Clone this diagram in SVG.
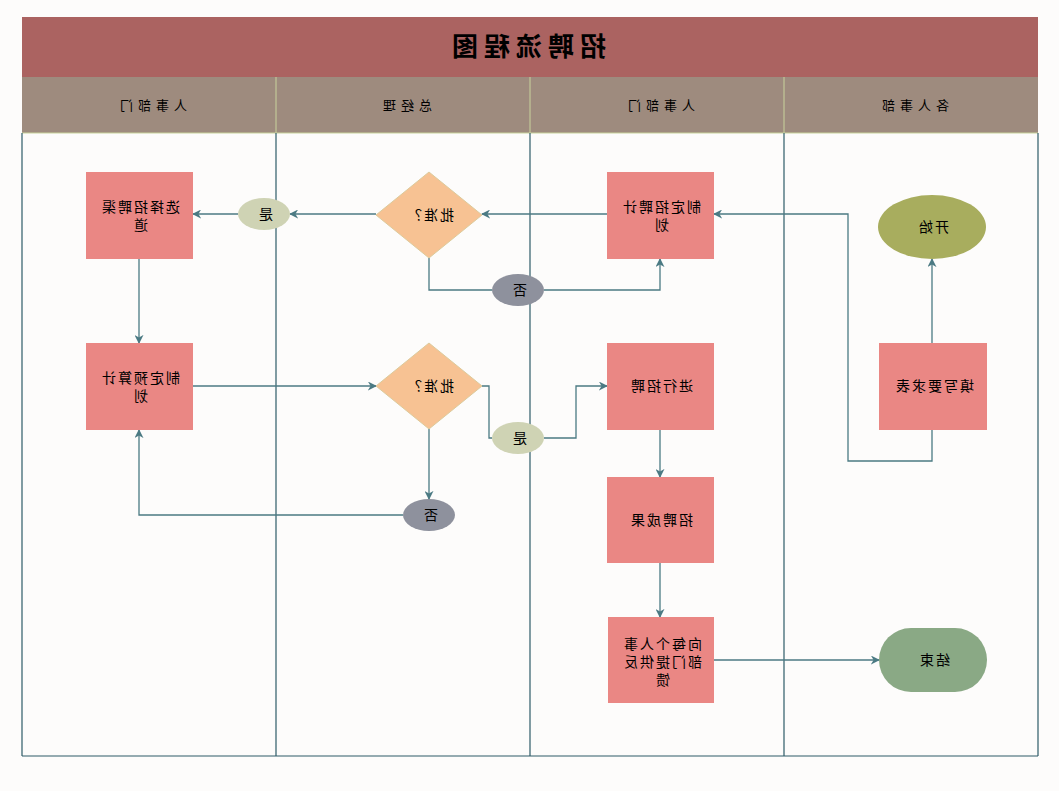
<svg xmlns="http://www.w3.org/2000/svg" width="1059" height="791" viewBox="0 0 1059 791">
<defs>
<marker id="ah" viewBox="0 0 10 10" refX="9" refY="5" markerWidth="9" markerHeight="9" markerUnits="userSpaceOnUse" orient="auto">
<path d="M0,0 L10,5 L0,10 L3,5 Z" fill="#4b7a83"/>
</marker>
<style>
.t{font-family:"Noto Sans CJK SC","Liberation Sans",sans-serif;font-size:14px;letter-spacing:2px;fill:#000;text-anchor:middle}
.h{font-family:"Noto Sans CJK SC","Liberation Sans",sans-serif;font-size:13px;letter-spacing:5px;fill:#000;text-anchor:middle}
.ttl{font-family:"Noto Sans CJK SC","Liberation Sans",sans-serif;font-size:26px;letter-spacing:6px;font-weight:bold;fill:#000;text-anchor:middle}
.box{fill:#ea8784}
.dia{fill:#f7c293;stroke:#dccb9c;stroke-width:1}
.yes{fill:#cfd3b4}
.no{fill:#8e919d}
.c{fill:none;stroke:#4b7a83;stroke-width:1.3}
.ca{fill:none;stroke:#4b7a83;stroke-width:1.3;marker-end:url(#ah)}
.lane{stroke:#2e5b68;stroke-width:1.2}
.hl{stroke:#c9d39c;stroke-width:1}
</style>
</defs>
<rect x="0" y="0" width="1059" height="791" fill="#fdfcfb"/>
<g id="pool">
<rect x="22" y="17" width="1016" height="60" fill="#ab6361"/>
<text class="ttl" x="526" y="56" transform="translate(1052,0) scale(-1,1)">招聘流程图</text>
<rect x="22" y="77" width="1016" height="56" fill="#9e8b7e"/>
<line class="hl" x1="276" y1="77" x2="276" y2="133"/>
<line class="hl" x1="530" y1="77" x2="530" y2="133"/>
<line class="hl" x1="784" y1="77" x2="784" y2="133"/>
<line class="hl" x1="22" y1="133" x2="1038" y2="133"/>
<text class="h" x="151" y="110" transform="translate(302,0) scale(-1,1)">人事部门</text>
<text class="h" x="405" y="110" transform="translate(810,0) scale(-1,1)">总经理</text>
<text class="h" x="659" y="110" transform="translate(1318,0) scale(-1,1)">人事部门</text>
<text class="h" x="913" y="110" transform="translate(1826,0) scale(-1,1)">各人事部</text>
<line class="lane" x1="22" y1="133" x2="22" y2="756"/>
<line class="lane" x1="276" y1="133" x2="276" y2="756"/>
<line class="lane" x1="530" y1="133" x2="530" y2="756"/>
<line class="lane" x1="784" y1="133" x2="784" y2="756"/>
<line class="lane" x1="1038" y1="133" x2="1038" y2="756"/>
<line class="lane" x1="22" y1="756" x2="1038" y2="756"/>
</g>
<g id="connectors">
<path class="ca" d="M932,343 L932,259"/>
<path class="ca" d="M932,430 L932,461 L848,461 L848,214 L714,214"/>
<path class="ca" d="M607,214 L482,214"/>
<path class="ca" d="M376,214 L290,214"/>
<path class="ca" d="M238,214 L193,214"/>
<path class="c" d="M429,258 L429,290 L492,290"/>
<path class="ca" d="M544,290 L660,290 L660,259"/>
<path class="ca" d="M139,259 L139,343"/>
<path class="ca" d="M193,386 L376,386"/>
<path class="c" d="M482,386 L489,386 L489,438 L492,438"/>
<path class="ca" d="M544,438 L576,438 L576,386 L607,386"/>
<path class="ca" d="M429,429 L429,499"/>
<path class="ca" d="M403,515 L139,515 L139,430"/>
<path class="ca" d="M660,430 L660,477"/>
<path class="ca" d="M660,563 L660,617"/>
<path class="ca" d="M714,660 L879,660"/>
</g>
<g id="n-start">
<ellipse cx="932" cy="227" rx="54" ry="32" fill="#a8ad5e"/>
<text class="t" x="933" y="232" transform="translate(1866,0) scale(-1,1)">开始</text>
</g>
<g id="n-form">
<rect class="box" x="879" y="343" width="108" height="87"/>
<text class="t" x="934" y="391" transform="translate(1868,0) scale(-1,1)">填写要求表</text>
</g>
<g id="n-plan">
<rect class="box" x="607" y="172" width="107" height="87"/>
<text class="t" x="661" y="212" transform="translate(1322,0) scale(-1,1)">制定招聘计</text>
<text class="t" x="661" y="230" transform="translate(1322,0) scale(-1,1)">划</text>
</g>
<g id="n-approve1">
<polygon class="dia" points="429,172 482,215 429,258 376,215"/>
<text class="t" x="430" y="220" transform="translate(860,0) scale(-1,1)">批准？</text>
</g>
<g id="n-yes1">
<ellipse class="yes" cx="264" cy="214" rx="26" ry="16"/>
<text class="t" x="265" y="219" transform="translate(530,0) scale(-1,1)">是</text>
</g>
<g id="n-no1">
<ellipse class="no" cx="518" cy="290" rx="26" ry="16"/>
<text class="t" x="519" y="295" transform="translate(1038,0) scale(-1,1)">否</text>
</g>
<g id="n-channel">
<rect class="box" x="86" y="172" width="107" height="87"/>
<text class="t" x="140" y="212" transform="translate(280,0) scale(-1,1)">选择招聘渠</text>
<text class="t" x="140" y="230" transform="translate(280,0) scale(-1,1)">道</text>
</g>
<g id="n-budget">
<rect class="box" x="86" y="343" width="107" height="87"/>
<text class="t" x="140" y="383" transform="translate(280,0) scale(-1,1)">制定预算计</text>
<text class="t" x="140" y="401" transform="translate(280,0) scale(-1,1)">划</text>
</g>
<g id="n-approve2">
<polygon class="dia" points="429,343 482,386 429,429 376,386"/>
<text class="t" x="430" y="391" transform="translate(860,0) scale(-1,1)">批准？</text>
</g>
<g id="n-yes2">
<ellipse class="yes" cx="518" cy="438" rx="26" ry="16"/>
<text class="t" x="519" y="443" transform="translate(1038,0) scale(-1,1)">是</text>
</g>
<g id="n-no2">
<ellipse class="no" cx="429" cy="515" rx="26" ry="16"/>
<text class="t" x="430" y="520" transform="translate(860,0) scale(-1,1)">否</text>
</g>
<g id="n-recruit">
<rect class="box" x="607" y="343" width="107" height="87"/>
<text class="t" x="661" y="391" transform="translate(1322,0) scale(-1,1)">进行招聘</text>
</g>
<g id="n-result">
<rect class="box" x="607" y="477" width="107" height="86"/>
<text class="t" x="661" y="525" transform="translate(1322,0) scale(-1,1)">招聘成果</text>
</g>
<g id="n-feedback">
<rect class="box" x="608" y="617" width="106" height="86"/>
<text class="t" x="662" y="649" transform="translate(1324,0) scale(-1,1)">向每个人事</text>
<text class="t" x="662" y="667" transform="translate(1324,0) scale(-1,1)">部门提供反</text>
<text class="t" x="662" y="685" transform="translate(1324,0) scale(-1,1)">馈</text>
</g>
<g id="n-end">
<rect x="879" y="628" width="108" height="64" rx="32" ry="32" fill="#8aa985"/>
<text class="t" x="934" y="665" transform="translate(1868,0) scale(-1,1)">结束</text>
</g>
</svg>
